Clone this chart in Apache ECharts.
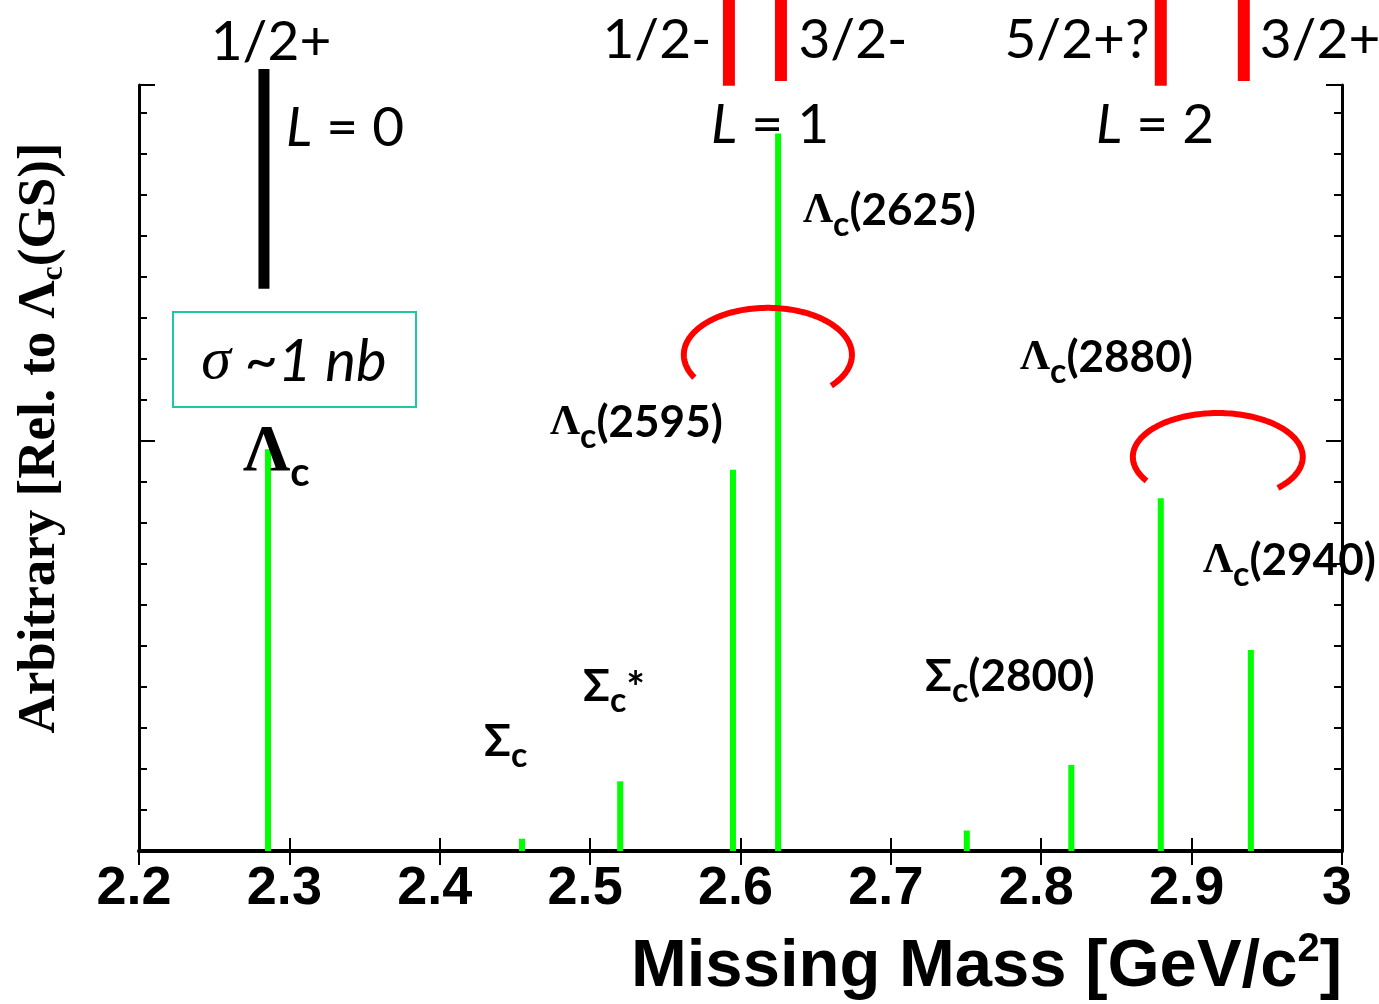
<!DOCTYPE html>
<html>
<head>
<meta charset="utf-8">
<script src="https://cdn.jsdelivr.net/npm/echarts@6/dist/echarts.min.js"></script>
<style>
    html, body { margin: 0; background: #fff; }
    #main { width: 1379px; height: 1004px; }
</style>
</head>
<body>
<div id="main"></div>
<script>
// peaks (green lines)
var peakMass = [2.2858, 2.4547, 2.520, 2.595, 2.625, 2.7505, 2.820, 2.8795, 2.9394];
var peakHeight = [0.98, 0.03, 0.17, 0.93, 1.75, 0.05, 0.21, 0.86, 0.49];

// level markers above the frame (1/2+, 1/2-, 3/2-, 5/2+?, 3/2+)
var levelMass = [2.2831, 2.5923, 2.6269, 2.8795, 2.9347];
var levelLow = [1.371, 1.866, 1.878, 1.866, 1.878];
var levelHigh = [1.907, 2.08, 2.08, 2.08, 2.08];

// red arcs (ellipse parts), centre + radii in axis units, angles in degrees
var arcMass = [2.6182, 2.9174];
var arcLevel = [1.210, 0.961];
var arcRx = [0.0559, 0.0565];
var arcRy = [0.1146, 0.107];
var arcFrom = [151, 147];
var arcTo = [402, 406];

var xTicks = ['2.2', '2.3', '2.4', '2.5', '2.6', '2.7', '2.8', '2.9', '3'];

var myChart = echarts.init(document.getElementById('main'));

// text pieces placed one after the other (for sub/superscripts)
var ctx = document.createElement('canvas').getContext('2d');
function run(x, y, pieces, align, rotation) {
    var widths = pieces.map(function (p) {
        ctx.font = p[1];
        return ctx.measureText(p[0]).width;
    });
    var total = widths.reduce(function (a, b) { return a + b; }, 0);
    var pos = align === 'center' ? -total / 2 : (align === 'right' ? -total : 0);
    var children = pieces.map(function (p, i) {
        var el = {
            type: 'text', x: pos, y: p[2] || 0, z: 100,
            style: {
                text: p[0], font: p[1], fill: '#000',
                align: 'left', verticalAlign: 'middle',
                textAlign: 'left', textVerticalAlign: 'middle'
            }
        };
        pos += widths[i];
        return el;
    });
    return { type: 'group', x: x, y: y, rotation: rotation || 0, children: children };
}

var serifL = 'bold 42px "Liberation Serif", serif';
var sansL = 'bold 44px Lato, "Open Sans", sans-serif';
var subL = 'bold 34px Lato, "Open Sans", sans-serif';
var jpFont = '55px Lato, "Open Sans", sans-serif';
var itFont = 'italic 55px Lato, "Open Sans", sans-serif';

function particle(x, y, head, headFont, rest) {
    var p = [[head, headFont, 0], ['c', subL, 14]];
    if (rest) p.push([rest, sansL, 0]);
    return run(x, y, p, 'left');
}

function yAx(pos, interval, len, showLine) {
    return {
        type: 'value', position: pos, min: 0, max: 1.868, interval: interval,
        axisLine: { show: showLine, onZero: false, lineStyle: { color: '#000', width: 3 } },
        axisTick: { show: true, inside: true, length: len, lineStyle: { color: '#000', width: 2 } },
        axisLabel: { show: false },
        splitLine: { show: false }
    };
}

var option = {
    animation: false,
    backgroundColor: '#fff',
    grid: { left: 139, right: 37, top: 85, bottom: 153 },
    xAxis: [{
        type: 'value', position: 'bottom', min: 2.2, max: 3.0, interval: 0.1,
        axisLine: { show: true, onZero: false, lineStyle: { color: '#000', width: 4 } },
        axisTick: { show: true, inside: true, length: 13, lineStyle: { color: '#000', width: 2 } },
        axisLabel: {
            margin: 11, color: '#000', padding: [0, 10, 0, 0],
            fontFamily: '"Liberation Sans", Arial, sans-serif', fontWeight: 'bold', fontSize: 54,
            formatter: function (v) {
                return xTicks[Math.round((v - 2.2) * 10)];
            }
        },
        splitLine: { show: false }
    }, {
        type: 'value', position: 'top', min: 2.2, max: 3.0, interval: 0.1,
        axisLine: { show: true, lineStyle: { color: '#000', width: 3 } },
        axisTick: { show: true, inside: true, length: 14, lineStyle: { color: '#000', width: 2 } },
        axisLabel: { show: false },
        splitLine: { show: false }
    }],
    yAxis: [
        yAx('left', 0.1, 8, true),
        yAx('left', 1, 16, false),
        yAx('right', 0.1, 8, true),
        yAx('right', 1, 16, false)
    ],
    series: [{
        // green peak lines
        type: 'custom',
        xAxisIndex: 0, yAxisIndex: 0,
        data: peakMass.map(function (m, i) { return [m, peakHeight[i]]; }),
        renderItem: function (params, api) {
            var a = api.coord([api.value(0), 0]);
            var b = api.coord([api.value(0), api.value(1)]);
            return {
                type: 'line',
                shape: { x1: a[0], y1: a[1], x2: b[0], y2: b[1] },
                style: { stroke: '#00ff00', lineWidth: 6 }
            };
        }
    }, {
        // spin-parity level markers
        type: 'custom',
        xAxisIndex: 0, yAxisIndex: 0, clip: false, z: 5,
        data: levelMass.map(function (m, i) { return [m, levelLow[i], levelHigh[i]]; }),
        renderItem: function (params, api) {
            var a = api.coord([api.value(0), api.value(1)]);
            var b = api.coord([api.value(0), api.value(2)]);
            var black = params.dataIndex === 0;
            return {
                type: 'line',
                shape: { x1: a[0], y1: a[1], x2: b[0], y2: b[1] },
                style: { stroke: black ? '#000' : '#ff0000', lineWidth: black ? 11 : 12 }
            };
        }
    }, {
        // red arcs
        type: 'custom',
        xAxisIndex: 0, yAxisIndex: 0, clip: false, z: 6,
        data: arcMass.map(function (m, i) { return [m, arcLevel[i], arcRx[i], arcRy[i], arcFrom[i], arcTo[i]]; }),
        renderItem: function (params, api) {
            var pts = [];
            var cx = api.value(0), cy = api.value(1), rx = api.value(2), ry = api.value(3);
            for (var t = api.value(4); t <= api.value(5); t += 2) {
                var r = t * Math.PI / 180;
                pts.push(api.coord([cx + rx * Math.cos(r), cy - ry * Math.sin(r)]));
            }
            return {
                type: 'polyline',
                shape: { points: pts },
                style: { stroke: '#ff0000', lineWidth: 6, fill: null }
            };
        }
    }],
    graphic: [
        {
            type: 'rect', z: 1,
            shape: { x: 173, y: 312, width: 243, height: 95 },
            style: { fill: 'none', stroke: '#1dc9a0', lineWidth: 2 }
        },
        run(271, 42, [['1/2+', jpFont]], 'center'),
        run(657, 40, [['1/2-', jpFont]], 'center'),
        run(853, 40, [['3/2-', jpFont]], 'center'),
        run(1077, 40, [['5/2+?', jpFont]], 'center'),
        run(1320, 40, [['3/2+', jpFont]], 'center'),
        run(345, 128, [['L', itFont], [' = 0', jpFont]], 'center'),
        run(770, 125, [['L', itFont], [' = 1', jpFont]], 'center'),
        run(1155, 125, [['L', itFont], [' = 2', jpFont]], 'center'),
        particle(803, 211, 'Λ', serifL, '(2625)'),
        particle(1020, 358, 'Λ', serifL, '(2880)'),
        particle(550, 423, 'Λ', serifL, '(2595)'),
        particle(1203, 561, 'Λ', serifL, '(2940)'),
        particle(925, 677, 'Σ', sansL, '(2800)'),
        run(583, 687, [['Σ', sansL, 0], ['c', subL, 14], ['*', 'bold 44px Lato, sans-serif', 2]], 'left'),
        particle(484, 742, 'Σ', sansL),
        run(243, 453, [['Λ', 'bold 66px "Liberation Serif", serif', 0], ['c', 'bold 40px Lato, sans-serif', 20]], 'left'),
        run(294, 362, [['σ', 'italic 60px "Liberation Serif", serif'], [' ~1 nb', 'italic 58px Lato, sans-serif']], 'center'),
        // y axis title
        run(40, 438, [
            ['Arbitrary [Rel. to Λ', 'bold 53px "Liberation Serif", serif', 0],
            ['c', 'bold 32px "Liberation Serif", serif', 14],
            ['(GS)]', 'bold 53px "Liberation Serif", serif', 0]
        ], 'center', Math.PI / 2),
        // x axis title
        run(1342, 968, [
            ['Missing Mass [GeV/c', 'bold 67px "Liberation Sans", Arial, sans-serif', 0],
            ['2', 'bold 40px "Liberation Sans", Arial, sans-serif', -18],
            [']', 'bold 67px "Liberation Sans", Arial, sans-serif', 0]
        ], 'right')
    ]
};

myChart.setOption(option);
</script>
</body>
</html>
